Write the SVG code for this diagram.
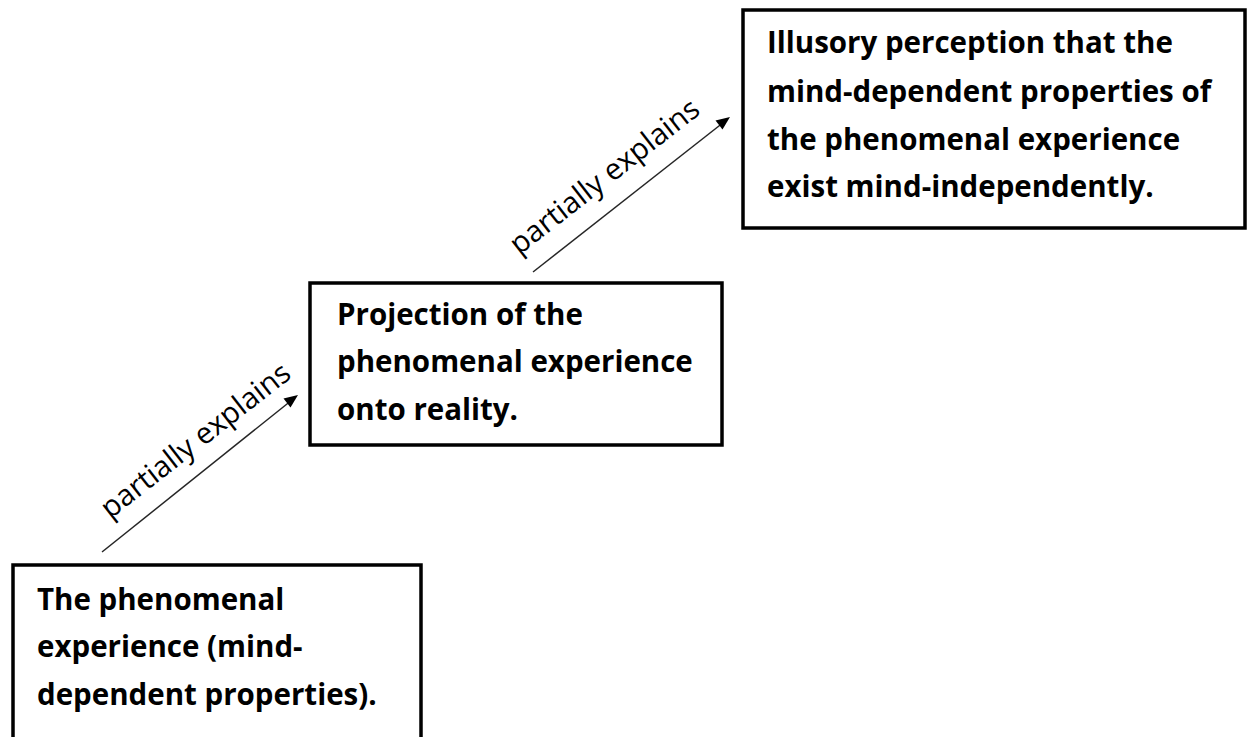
<svg xmlns="http://www.w3.org/2000/svg" width="1248" height="737" viewBox="0 0 1248 737">
<style>
.box{fill:#fff;stroke:#000;stroke-width:3.5}
.t{font-family:"Open Sans","Liberation Sans",sans-serif;font-weight:bold;font-size:29.5px;fill:#000;font-variant-ligatures:none}
.lbl{font-family:"Open Sans","Liberation Sans",sans-serif;font-size:29.5px;fill:#000}
.conn{stroke:#262626;stroke-width:1.5;fill:none}
</style>
<rect width="1248" height="737" fill="#fff"/>
<g id="connectors">
<line class="conn" x1="102" y1="552" x2="292" y2="400"/>
<path d="M298,395 L283.5,398.5 L290.5,407.5 z" fill="#000"/>
<line class="conn" x1="533" y1="272" x2="724" y2="122"/>
<path d="M730,117 L715.5,120.5 L722.5,129.5 z" fill="#000"/>
<text class="lbl" text-anchor="middle" transform="translate(196,441) rotate(-38)" dy="9">partially explains</text>
<text class="lbl" text-anchor="middle" transform="translate(605,177) rotate(-38)" dy="9">partially explains</text>
</g>
<g id="node1">
<rect class="box" x="13" y="565" width="408" height="190"/>
<text class="t" x="37" y="610">The phenomenal</text>
<text class="t" x="37" y="657">experience (mind-</text>
<text class="t" x="37" y="705">dependent properties).</text>
</g>
<g id="node2">
<rect class="box" x="310" y="283" width="412" height="162"/>
<text class="t" x="337" y="325">Projection of the</text>
<text class="t" x="337" y="372">phenomenal experience</text>
<text class="t" x="337" y="420">onto reality.</text>
</g>
<g id="node3">
<rect class="box" x="743" y="10" width="502" height="218"/>
<text class="t" x="767" y="53">Illusory perception that the</text>
<text class="t" x="767" y="102">mind-dependent properties of</text>
<text class="t" x="767" y="150">the phenomenal experience</text>
<text class="t" x="767" y="197">exist mind-independently.</text>
</g>
</svg>
